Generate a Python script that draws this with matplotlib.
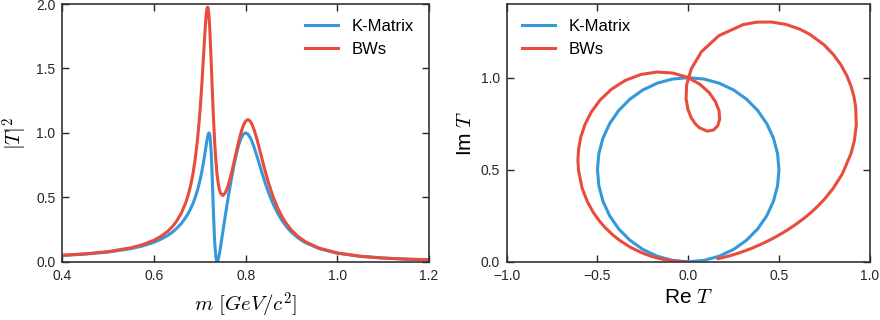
import matplotlib
matplotlib.use('Agg')
from matplotlib import pyplot as plt

plt.rcParams['font.family'] = ['Liberation Sans', 'DejaVu Sans']
plt.rcParams['mathtext.fontset'] = 'cm'

blue = '#3498db'
red = '#e74c3c'

# |T|^2 line shapes
mass = [0.40, 0.45, 0.50, 0.55, 0.575, 0.60, 0.615, 0.63, 0.64, 0.65, 0.66, 0.67,
        0.675, 0.68, 0.685, 0.69, 0.695, 0.70, 0.7025, 0.705, 0.7075, 0.70875, 0.71,
        0.71125, 0.7125, 0.71375, 0.715, 0.7165, 0.7175, 0.71875, 0.72, 0.72125,
        0.7225, 0.725, 0.7275, 0.73, 0.7325, 0.735, 0.7375, 0.7378, 0.74, 0.7425,
        0.745, 0.75, 0.755, 0.76, 0.765, 0.77, 0.775, 0.78, 0.785, 0.79, 0.795,
        0.80, 0.805, 0.81, 0.815, 0.82, 0.825, 0.83, 0.835, 0.84, 0.845, 0.85,
        0.86, 0.87, 0.88, 0.89, 0.90, 0.915, 0.93, 0.96, 1.00, 1.05, 1.10, 1.15, 1.20]
kmat_sq = [0.0490, 0.0594, 0.0754, 0.1020, 0.1225, 0.1512, 0.1745, 0.2044, 0.2295,
           0.2602, 0.2985, 0.3473, 0.3771, 0.4115, 0.4517, 0.4994, 0.5565, 0.6260,
           0.6665, 0.7114, 0.7610, 0.7875, 0.8150, 0.8435, 0.8724, 0.9014, 0.9295,
           0.9605, 0.9779, 0.9938, 1.0000, 0.9923, 0.9658, 0.8399, 0.6163, 0.3555,
           0.1477, 0.0341, 0.0002, 0.0000, 0.0156, 0.0569, 0.1101, 0.2274, 0.3445,
           0.4569, 0.5640, 0.6649, 0.7579, 0.8400, 0.9081, 0.9588, 0.9898, 1.0000,
           0.9904, 0.9633, 0.9225, 0.8719, 0.8155, 0.7565, 0.6976, 0.6405, 0.5866,
           0.5363, 0.4480, 0.3752, 0.3160, 0.2679, 0.2288, 0.1831, 0.1488, 0.1023,
           0.0666, 0.0422, 0.0286, 0.0203, 0.0150]
bw_sq = [0.0503, 0.0614, 0.0788, 0.1086, 0.1324, 0.1672, 0.1967, 0.2367, 0.2721,
         0.3178, 0.3793, 0.4654, 0.5225, 0.5933, 0.6828, 0.7981, 0.9496, 1.1504,
         1.2730, 1.4107, 1.5602, 1.6371, 1.7129, 1.7855, 1.8514, 1.9073, 1.9489,
         1.9745, 1.9742, 1.9523, 1.9062, 1.8375, 1.7496, 1.5362, 1.3078, 1.0975,
         0.9221, 0.7854, 0.6840, 0.6739, 0.6120, 0.5636, 0.5337, 0.5141, 0.5314,
         0.5730, 0.6314, 0.7014, 0.7787, 0.8586, 0.9358, 1.0042, 1.0579, 1.0918,
         1.1028, 1.0905, 1.0572, 1.0072, 0.9457, 0.8778, 0.8076, 0.7385, 0.6725,
         0.6110, 0.5035, 0.4160, 0.3460, 0.2902, 0.2455, 0.1941, 0.1563, 0.1061,
         0.0682, 0.0429, 0.0289, 0.0205, 0.0151]

# Argand diagram, right panel
kmat_re = [0.0, 0.0868, 0.1710, 0.25, 0.3214, 0.3830, 0.4330, 0.4698, 0.4924, 0.5,
           0.4924, 0.4698, 0.4330, 0.3830, 0.3214, 0.25, 0.1710, 0.0868, 0.0,
           -0.0868, -0.1710, -0.25, -0.3214, -0.3830, -0.4330, -0.4698, -0.4924, -0.5,
           -0.4924, -0.4698, -0.4330, -0.3830, -0.3214, -0.25, -0.1710, -0.0868, 0.0]
kmat_im = [0.0, 0.0076, 0.0302, 0.0670, 0.1170, 0.1786, 0.25, 0.3290, 0.4132, 0.5,
           0.5868, 0.6710, 0.75, 0.8214, 0.8830, 0.9330, 0.9698, 0.9924, 1.0,
           0.9924, 0.9698, 0.9330, 0.8830, 0.8214, 0.75, 0.6710, 0.5868, 0.5,
           0.4132, 0.3290, 0.25, 0.1786, 0.1170, 0.0670, 0.0302, 0.0076, 0.0]
bw_re = [0.1647, 0.1761, 0.1927, 0.2222, 0.2768, 0.3235, 0.3559, 0.3980, 0.4300,
         0.4693, 0.5009, 0.5383, 0.5837, 0.6396, 0.6728, 0.7102, 0.7524, 0.7992,
         0.8493, 0.8971, 0.9157, 0.9261, 0.9226, 0.9133, 0.8975, 0.8739, 0.8415,
         0.7994, 0.7474, 0.6723, 0.6156, 0.5392, 0.4592, 0.3790, 0.3020, 0.1688,
         0.0734, 0.0167, -0.0086, -0.0119, -0.0015, 0.0167, 0.0386, 0.0615, 0.1047,
         0.1395, 0.1630, 0.1735, 0.1698, 0.1505, 0.1148, 0.0625, -0.0050, -0.0848,
         -0.1722, -0.2614, -0.3465, -0.4223, -0.4855, -0.5345, -0.5697, -0.5922,
         -0.6042, -0.6076, -0.6044, -0.5850, -0.5559, -0.5233, -0.4904, -0.4589,
         -0.4158, -0.3779, -0.3163, -0.2565, -0.2049, -0.1688, -0.1425, -0.1224,
         -0.0754, -0.0446, -0.0300, -0.0180]
bw_im = [0.0171, 0.0195, 0.0233, 0.0306, 0.0468, 0.0631, 0.0757, 0.0937, 0.1086,
         0.1284, 0.1455, 0.1675, 0.1966, 0.2372, 0.2643, 0.2982, 0.3417, 0.3992,
         0.4778, 0.5879, 0.6592, 0.7437, 0.8420, 0.8960, 0.9526, 1.0108, 1.0693,
         1.1261, 1.1791, 1.2339, 1.2630, 1.2891, 1.3021, 1.3015, 1.2878, 1.2279,
         1.1412, 1.0475, 0.9602, 0.8861, 0.8270, 0.7821, 0.7497, 0.7279, 0.7094,
         0.7155, 0.7392, 0.7754, 0.8201, 0.8695, 0.9195, 0.9653, 1.0021, 1.0250,
         1.0306, 1.0171, 0.9851, 0.9375, 0.8784, 0.8124, 0.7438, 0.6759, 0.6111,
         0.5508, 0.4957, 0.4016, 0.3271, 0.2687, 0.2229, 0.1868, 0.1459, 0.1162,
         0.0775, 0.0491, 0.0304, 0.0203, 0.0143, 0.0105, 0.0039, 0.0013, 0.0006,
         0.0002]

fig = plt.figure(figsize=(8.8, 3.2), dpi=100)
ax1 = fig.add_axes([0.0708, 0.182, 0.4167, 0.8055])
ax2 = fig.add_axes([0.5758, 0.182, 0.4125, 0.8055])

for ax in (ax1, ax2):
    ax.tick_params(direction='in', top=True, right=True, length=5, width=1,
                   labelsize=10, colors='#262626', pad=5)
    for s in ax.spines.values():
        s.set_color('#333333')
        s.set_linewidth(1.2)

ax1.plot(mass, kmat_sq, color=blue, lw=2.2, label='K-Matrix')
ax1.plot(mass, bw_sq, color=red, lw=2.2, label='BWs')
ax1.set_xlim(0.4, 1.2)
ax1.set_ylim(0, 2.0)
ax1.set_xticks([0.4, 0.6, 0.8, 1.0, 1.2])
ax1.set_yticks([0.0, 0.5, 1.0, 1.5, 2.0])
ax1.set_xlabel(r'$m\ [GeV/c^2]$', fontsize=15, labelpad=6)
ax1.set_ylabel(r'$|T|^2$', fontsize=15)
ax1.legend(loc='upper right', frameon=False, fontsize=12)

ax2.plot(kmat_re, kmat_im, color=blue, lw=2.2, label='K-Matrix')
ax2.plot(bw_re, bw_im, color=red, lw=2.2, label='BWs')
ax2.set_xlim(-1.0, 1.0)
ax2.set_ylim(0, 1.4)
ax2.set_xticks([-1.0, -0.5, 0.0, 0.5, 1.0])
ax2.set_yticks([0.0, 0.5, 1.0])
ax2.set_xlabel(r'Re $T$', fontsize=15)
ax2.set_ylabel(r'Im $T$', fontsize=15)
ax2.legend(loc='upper left', frameon=False, fontsize=12)

fig.savefig('out.png', dpi=100)
